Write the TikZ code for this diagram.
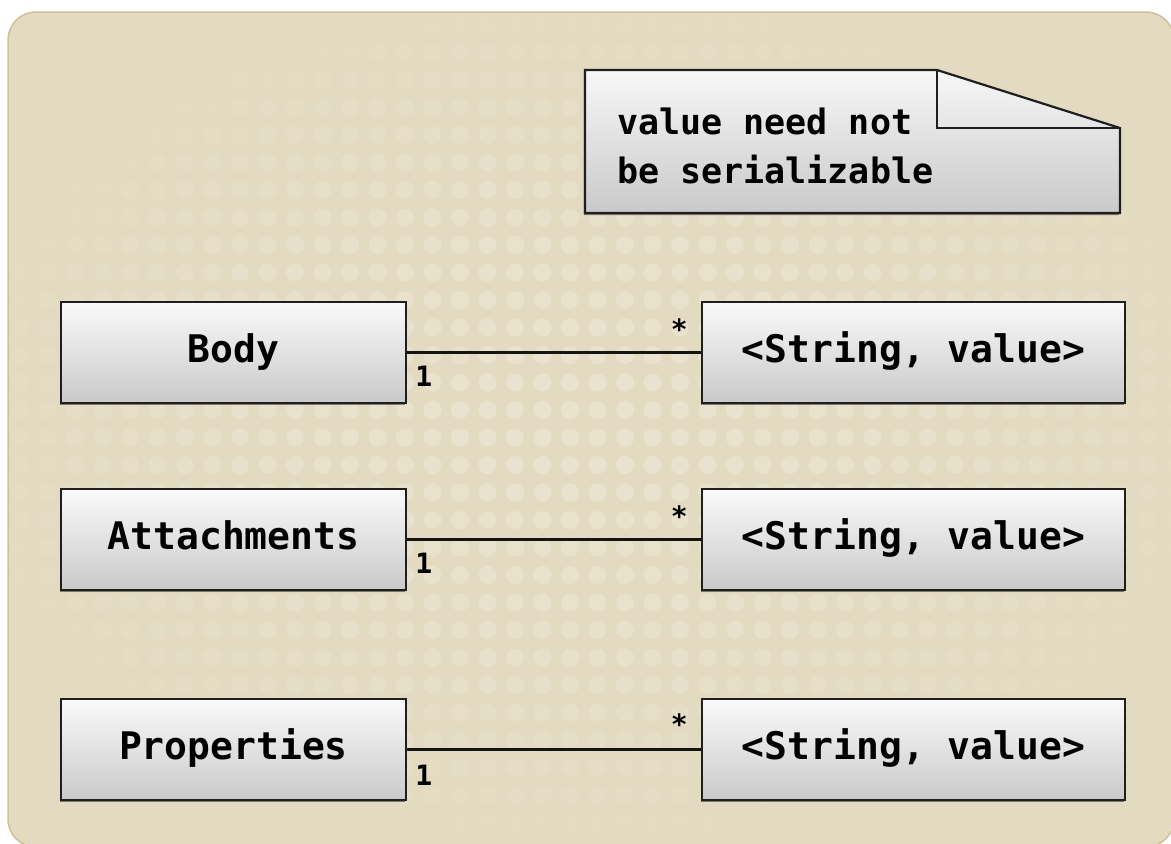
\documentclass[tikz,border=0pt]{standalone}
\usepackage{fontspec}
\setmonofont{DejaVu Sans Mono}
\usetikzlibrary{calc,shadows}
\definecolor{bgc}{HTML}{E3DBC1}
\definecolor{bgedge}{HTML}{CDBF98}
\definecolor{dotc}{HTML}{EBE5D2}
\begin{document}
\begin{tikzpicture}[x=1pt,y=-1pt,
  boxbase/.style={draw=black!88, line width=2.2pt, top color=black!2, bottom color=black!21,
    inner sep=0pt, minimum height=101pt,
    font=\ttfamily\bfseries\fontsize{38}{40}\selectfont, text height=29pt, text depth=9pt,
    drop shadow={shadow xshift=-1.2pt, shadow yshift=-2pt, opacity=.45, fill=black}},
  leftbox/.style={boxbase, minimum width=345pt},
  rightbox/.style={boxbase, minimum width=423pt},
  conn/.style={line width=3.2pt, draw=black!92},
  mult/.style={inner sep=0pt, font=\ttfamily\bfseries\fontsize{28}{30}\selectfont},
  notetext/.style={inner sep=0pt, anchor=base west, font=\ttfamily\bfseries\fontsize{35}{40}\selectfont},
]
\useasboundingbox (0,0) rectangle (1171,844);
% background panel
\fill[bgc, draw=bgedge, line width=1.5pt, rounded corners=28pt] (8,12) rectangle (1174,847);
% dotted pattern
\foreach \i in {0,...,42}{
  \foreach \j in {0,...,30}{
    \pgfmathsetmacro\op{max(0,0.8-((20+\i*27.5-590)/720)^2-((25+\j*27.5-420)/480)^2)}
    \fill[dotc, opacity=\op] (20+\i*27.5, 25+\j*27.5) circle (9);
  }
}
% note
\coordinate (n1) at (585,70);
\coordinate (n2) at (937,70);
\coordinate (n3) at (1120,128);
\coordinate (n4) at (1120,213);
\coordinate (n5) at (585,213);
\coordinate (nf) at (937,128);
\path[top color=black!3, bottom color=black!21, drop shadow={shadow xshift=-1.2pt, shadow yshift=-2pt, opacity=.45, fill=black}]
  (n1) -- (n2) -- (n3) -- (n4) -- (n5) -- cycle;
\draw[line width=2.2pt, draw=black!88, line join=miter] (n1) -- (n2) -- (n3) -- (n4) -- (n5) -- cycle;
\draw[line width=2.2pt, draw=black!88] (n2) -- (nf) -- (n3);
\node[notetext] (note1) at (617,134) {value need not};
\node[notetext] (note2) at (617,183) {be serializable};
% boxes
\node[leftbox] (body) at (233.5,352.5) {Body};
\node[rightbox] (sv1) at (913.5,352.5) {<String, value>};
\node[leftbox] (att) at (233.5,539.5) {Attachments};
\node[rightbox] (sv2) at (913.5,539.5) {<String, value>};
\node[leftbox] (prop) at (233.5,749.5) {Properties};
\node[rightbox] (sv3) at (913.5,749.5) {<String, value>};
% connectors
\draw[conn] (body) -- (sv1);
\draw[conn] (att) -- (sv2);
\draw[conn] (prop) -- (sv3);
% multiplicities
\node[mult, anchor=base west] (m1a) at ($(body.east)+(8,34)$) {1};
\node[mult, anchor=base east] (m1b) at ($(sv1.west)+(-13,-13)$) {*};
\node[mult, anchor=base west] (m2a) at ($(att.east)+(8,34)$) {1};
\node[mult, anchor=base east] (m2b) at ($(sv2.west)+(-13,-13)$) {*};
\node[mult, anchor=base west] (m3a) at ($(prop.east)+(8,36)$) {1};
\node[mult, anchor=base east] (m3b) at ($(sv3.west)+(-13,-15)$) {*};
\end{tikzpicture}
\end{document}
